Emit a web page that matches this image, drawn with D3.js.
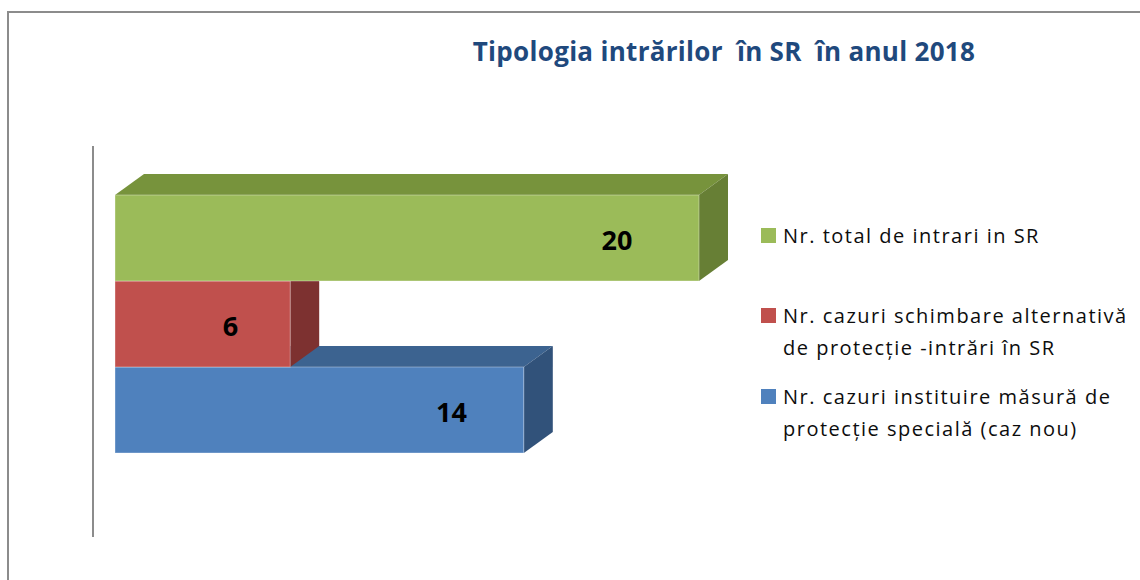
<!DOCTYPE html>
<html>
<head>
<meta charset="utf-8">
<script src="https://cdn.jsdelivr.net/npm/d3@7"></script>
<style>
  html, body { margin: 0; padding: 0; background: #fff; }
  svg { display: block; }
</style>
</head>
<body>
<div class="chart"></div>
<script>
const title = "Tipologia intrărilor  în SR  în anul 2018";

// series from top to bottom as drawn
const seriesNames = [
    "Nr. total de intrari in SR",
    "Nr. cazuri schimbare alternativă de protecție -intrări în SR",
    "Nr. cazuri instituire măsură de protecție specială (caz nou)"
];
const seriesValues = [20, 6, 14];
const legendLines = [
    ["Nr. total de intrari in SR"],
    ["Nr. cazuri schimbare alternativă", "de protecție -intrări în SR"],
    ["Nr. cazuri instituire măsură de", "protecție specială (caz nou)"]
];
const frontColors = ["#9BBB59", "#C0504D", "#4F81BD"];
const topColors = ["#77933C", "#953735", "#3C6390"];
const sideColors = ["#677F35", "#7D3130", "#31527A"];

const width = 1140;
const height = 580;
const depthX = 29;
const depthY = 21;
const font = "'Open Sans', 'Noto Sans', sans-serif";

const svg = d3.select(".chart")
    .append("svg")
    .attr("width", width)
    .attr("height", height);

// chart border (left and top visible)
svg.append("path")
    .attr("d", `M8,${height} L8,12 L${width},12`)
    .attr("fill", "none")
    .attr("stroke", "#8c8c8c")
    .attr("stroke-width", 2);

svg.append("text")
    .attr("x", 724)
    .attr("y", 61)
    .attr("text-anchor", "middle")
    .attr("font-family", font)
    .attr("font-weight", "bold")
    .attr("font-size", 26)
    .attr("letter-spacing", 0.3)
    .attr("fill", "#1F497D")
    .style("white-space", "pre")
    .text(title);

const x = d3.scaleLinear()
    .domain([0, 20])
    .range([115, 699]);

const y = d3.scaleBand()
    .domain(seriesNames)
    .range([195, 453])
    .padding(0);

// vertical axis line
svg.append("line")
    .attr("x1", 93).attr("x2", 93)
    .attr("y1", 146).attr("y2", 537)
    .attr("stroke", "#8c8c8c")
    .attr("stroke-width", 2);

const bars = seriesNames.map((name, i) => ({ name, value: seriesValues[i], i }));

// draw bottom to top so upper bars cover the depth faces below
const barG = svg.append("g")
    .selectAll("g.bar")
    .data(bars.slice().reverse())
    .join("g")
    .attr("class", "bar");

barG.append("path")
    .attr("fill", d => topColors[d.i])
    .attr("d", d => {
        const x0 = x(0), x1 = x(d.value), y0 = y(d.name);
        return `M${x0},${y0} L${x0 + depthX},${y0 - depthY} L${x1 + depthX},${y0 - depthY} L${x1},${y0} Z`;
    });

barG.append("path")
    .attr("fill", d => sideColors[d.i])
    .attr("d", d => {
        const x1 = x(d.value), y0 = y(d.name), y1 = y0 + y.bandwidth();
        return `M${x1},${y0} L${x1 + depthX},${y0 - depthY} L${x1 + depthX},${y1 - depthY} L${x1},${y1} Z`;
    });

barG.append("rect")
    .attr("x", x(0))
    .attr("y", d => y(d.name))
    .attr("width", d => x(d.value) - x(0))
    .attr("height", y.bandwidth())
    .attr("fill", d => frontColors[d.i])
    .attr("stroke", "rgba(255,255,255,0.35)")
    .attr("stroke-width", 1);

// value labels, placed a little in from the bar end
svg.append("g")
    .selectAll("text")
    .data(bars)
    .join("text")
    .attr("x", d => x(d.value) - (50 + 1.6 * d.value))
    .attr("y", d => y(d.name) + y.bandwidth() / 2 + 12)
    .attr("text-anchor", "middle")
    .attr("font-family", font)
    .attr("font-weight", "bold")
    .attr("font-size", 27)
    .attr("fill", "#000")
    .text(d => d.value);

// legend
const legendTop = [236, 316, 397];
const legend = svg.append("g")
    .selectAll("g")
    .data(bars)
    .join("g")
    .attr("transform", d => `translate(761,${legendTop[d.i]})`);

legend.append("rect")
    .attr("x", 0)
    .attr("y", -8)
    .attr("width", 15)
    .attr("height", 15)
    .attr("fill", d => frontColors[d.i]);

legend.append("text")
    .attr("font-family", font)
    .attr("font-size", 20)
    .attr("letter-spacing", 1.5)
    .attr("fill", "#0d0d0d")
    .selectAll("tspan")
    .data(d => legendLines[d.i])
    .join("tspan")
    .attr("x", 22)
    .attr("y", (t, j) => 7 + j * 32)
    .text(t => t);
</script>
</body>
</html>
